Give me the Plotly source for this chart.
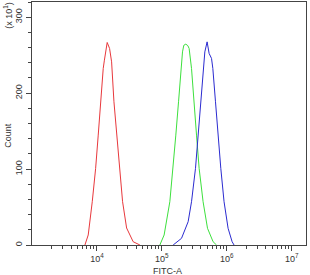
import plotly.graph_objects as go

# FITC-A intensity (linear values) and counts (displayed in units of x10)
red_x = [6531, 7345, 8472, 9550, 10471, 11402, 12503, 13032, 14388, 15668,
         16827, 18281, 20091, 22029, 24831, 28642, 36141, 45920]
red_y = [0, 13.2, 57.0, 100.9, 144.7, 188.6, 232.5, 243.4, 266.7, 258.8,
         241.2, 188.6, 144.7, 100.9, 57.0, 22.4, 4.3, 0]

green_x = [93111, 108393, 132739, 149279, 164059, 180717, 195884, 207970, 217771,
           233884, 251189, 263027, 286418, 310456, 341979, 374973, 431519,
           504661, 615177, 695024]
green_y = [0, 13.2, 57.0, 100.9, 144.7, 188.6, 232.5, 254.3, 263.0, 264.5,
           262.5, 258.8, 232.5, 188.6, 144.7, 100.9, 57.0, 22.0, 4.3, 0]

blue_x = [149279, 200909, 254097, 286418, 329610, 361410, 398107, 431519, 459198,
          497737, 534564, 582103, 609537, 669885, 734514, 809096, 907821,
          1047129, 1207814, 1294196]
blue_y = [0, 8.8, 30.7, 57.0, 100.9, 144.7, 188.6, 232.5, 254.3, 267.5,
          252.2, 245.7, 232.5, 188.6, 144.7, 100.9, 57.0, 22.0, 4.3, 0]

x_major = [1e4, 1e5, 1e6, 1e7]
x_major_text = ["10<sup>4</sup>", "10<sup>5</sup>", "10<sup>6</sup>", "10<sup>7</sup>"]
x_minor = [m * 10 ** d for d in range(3, 8) for m in range(2, 10) if m * 10 ** d < 1.6e7]
y_major = [0, 100, 200, 300]
y_minor = list(range(0, 321, 20))

fig = go.Figure()
fig.add_trace(go.Scatter(x=red_x, y=red_y, mode="lines",
                         line=dict(color="#e8383c", width=1)))
fig.add_trace(go.Scatter(x=green_x, y=green_y, mode="lines",
                         line=dict(color="#3de03d", width=1)))
fig.add_trace(go.Scatter(x=blue_x, y=blue_y, mode="lines",
                         line=dict(color="#2b2bd0", width=1)))

axis_font = dict(family="Liberation Sans, Arial, sans-serif", size=9, color="#333")

fig.update_layout(
    width=310, height=275,
    margin=dict(l=32, r=4, t=2, b=30),
    paper_bgcolor="white", plot_bgcolor="white",
    showlegend=False,
    xaxis=dict(type="log", range=[3, 7.22], showgrid=False, zeroline=False,
               showline=True, linecolor="#444", linewidth=1, mirror=True,
               ticks="outside", ticklen=5, tickcolor="#444",
               tickmode="array", tickvals=x_major, ticktext=x_major_text,
               tickfont=axis_font,
               minor=dict(ticks="outside", ticklen=3, tickcolor="#444",
                          tickmode="array", tickvals=x_minor)),
    yaxis=dict(range=[0, 320], showgrid=False, zeroline=False,
               showline=True, linecolor="#444", linewidth=1, mirror=True,
               ticks="outside", ticklen=5, tickcolor="#444",
               tickmode="array", tickvals=y_major,
               ticktext=[str(v) for v in y_major],
               tickangle=-90, tickfont=axis_font,
               minor=dict(ticks="outside", ticklen=3, tickcolor="#444",
                          tickmode="array", tickvals=y_minor)),
    annotations=[
        dict(text="FITC-A", xref="paper", yref="paper", x=0.496, y=-0.108,
             showarrow=False, xanchor="center", yanchor="middle",
             font=axis_font),
        dict(text="Count", xref="paper", yref="paper", x=-0.088, y=0.453,
             showarrow=False, xanchor="center", yanchor="middle",
             textangle=-90, font=axis_font),
        dict(text="(x 10<sup>1</sup>)", xref="paper", yref="paper", x=-0.088, y=0.947,
             showarrow=False, xanchor="center", yanchor="middle",
             textangle=-90, font=axis_font),
    ],
)

fig.write_html("out.html")
